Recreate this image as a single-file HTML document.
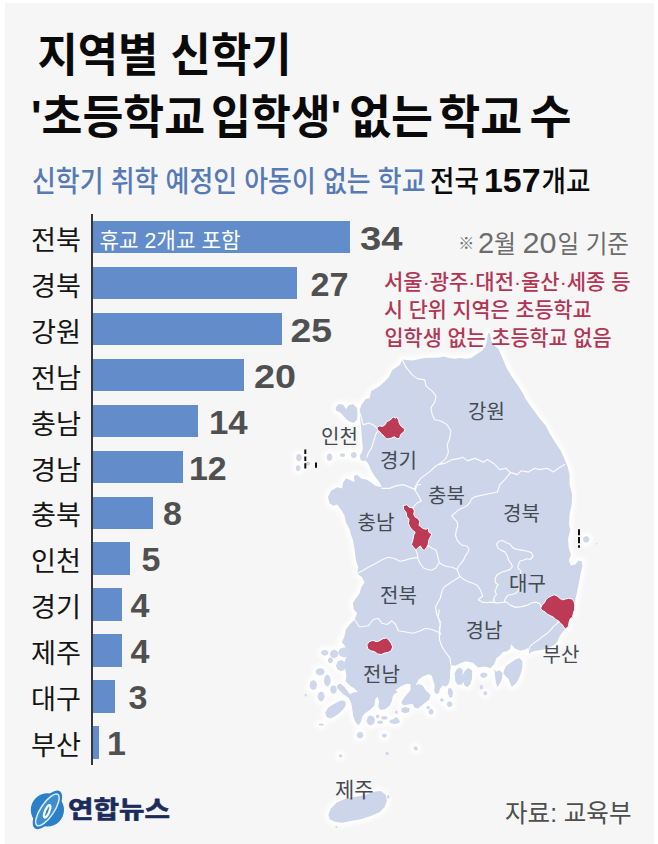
<!DOCTYPE html>
<html lang="ko"><head><meta charset="utf-8"><title>지역별 신학기 '초등학교 입학생' 없는 학교 수</title>
<style>
html,body{margin:0;padding:0;background:#fff}
body{width:658px;height:844px;position:relative;overflow:hidden;font-family:"Liberation Sans","Noto Sans CJK KR",sans-serif}
.panel{position:absolute;left:5px;top:3px;width:649.4px;height:841px;background:#f6f6f6}
.chart{position:absolute;left:0;top:0}
.axis{position:absolute;left:90.7px;top:214.3px;width:2.2px;height:551px;background:#33363f}
.row{position:absolute;left:0;height:32.4px;width:420px}
.bar{position:absolute;left:92.5px;top:0;height:32.4px;background:#638cca}
svg{position:absolute;left:0;top:0}
svg text{font-family:"Liberation Sans","Noto Sans CJK KR",sans-serif}
</style></head><body>
<div class="panel"></div>
<div class="chart">
<div class="row" style="top:221.00px"><div class="bar" style="width:257.5px"></div></div>
<div class="row" style="top:266.92px"><div class="bar" style="width:204.3px"></div></div>
<div class="row" style="top:312.84px"><div class="bar" style="width:189.1px"></div></div>
<div class="row" style="top:358.76px"><div class="bar" style="width:151.1px"></div></div>
<div class="row" style="top:404.68px"><div class="bar" style="width:105.6px"></div></div>
<div class="row" style="top:450.60px"><div class="bar" style="width:90.4px"></div></div>
<div class="row" style="top:496.52px"><div class="bar" style="width:60.0px"></div></div>
<div class="row" style="top:542.44px"><div class="bar" style="width:37.2px"></div></div>
<div class="row" style="top:588.36px"><div class="bar" style="width:29.6px"></div></div>
<div class="row" style="top:634.28px"><div class="bar" style="width:29.6px"></div></div>
<div class="row" style="top:680.20px"><div class="bar" style="width:22.0px"></div></div>
<div class="row" style="top:726.12px"><div class="bar" style="width:6.8px"></div></div>
<div class="axis"></div>
</div>
<svg width="658" height="844" viewBox="0 0 658 844">
<defs><filter id="gl" x="-10%" y="-10%" width="120%" height="120%"><feGaussianBlur stdDeviation="2"/></filter></defs>
<path d="M490.2,333.2 487.8,333.2 487.1,340.5 485.2,346.9 481,351.5 476.5,354.2 471,357.9 465.5,358.8 460.1,357.9 454.6,358.8 449.1,357.9 443.6,356.6 439.7,357.5 424.7,358 412.3,360.5 402.3,359.5 399.8,364.9 392.3,369.9 388.6,377.4 379.9,386.1 371.2,391.1 369.4,398.6 365.8,398.7 361.3,404.9 359.5,411.1 360.3,419.9 361.3,429.8 362,439.8 362.8,448.5 361.3,454.8 364.5,459.7 368.3,463.5 370.8,469.7 374.5,475.9 379.5,482.2 382,487.2 375.7,485.9 370.8,482.2 367,479.7 361.3,478.4 357.1,474.7 353.8,475.9 354.6,482.2 349.6,479.7 345.8,478.4 343.3,482.2 342.1,488.4 337.1,487.2 330.9,490.9 327.9,497.1 329.6,503.3 333.4,505.8 337.1,504.6 340.9,509.6 344.6,515.8 345.8,522 349.6,529.5 351.3,535.7 352.8,539.5 354.6,549.4 355.8,559.4 358.3,569.4 355.8,559.7 358.3,567.2 357.1,573.4 362,577.2 364.5,582.2 361.3,587.2 359.5,593.4 355.8,598.4 352.8,603.3 353.8,609.6 357.1,613.3 354.6,619.5 349.6,624.5 345.8,629.5 344.6,635.7 342.1,642 340.3,640.2 344.1,644.8 347.1,649.3 348.6,653.9 345.6,658.4 344.1,664.5 345.6,670.6 346.4,676.7 345.6,681.2 350.2,685.8 354.7,688.8 357.8,691.9 353.2,692.6 350.2,694.1 348.9,697.9 351.4,704 352.4,710.1 353.2,716.2 355.5,722.3 358.5,725.3 360.8,722.3 362.3,716.2 365.3,713.1 369.9,710.1 374.5,705.5 375.2,699.5 377.5,696.4 379,701 378.3,707.1 380.5,710.1 385.1,709.3 389.7,705.5 391.9,701 392.7,696.4 395,693.4 398,691.9 395.3,690.2 400.6,686.4 406,684.1 410.5,684.1 410.5,690.2 405.2,696.2 402.2,700.8 401.4,703.1 403.7,705.3 408.2,704.6 412.8,703.8 414.3,707.6 418.1,708.4 421.9,705.3 425.7,702.3 429.5,699.3 430.3,694.7 425.7,690.2 422.7,685.6 418.9,684.1 415.8,685.3 418.1,680.3 422.7,676.5 428.8,674.2 431.8,675.7 433.3,681 434.8,685.6 434.1,690.2 435.6,694 438.6,693.2 440.2,688.6 442.4,685.6 446.2,686.4 448.5,684.1 450,678 450,672.7 450.8,665.1 455.3,665.8 461.4,662.8 466,661.3 472.8,662.8 478.1,667.4 484.2,666.6 490.5,667.9 494.3,664.1 496.6,658 500.4,655 502.7,651.9 507.2,651.2 510.3,648.9 511,644.3 513.3,646.6 515.6,648.9 520.2,650.4 525.5,649.6 527.8,648.1 528.5,654.7 531,652.2 534.8,650.9 542.2,649.7 547.2,648.4 552.2,646 554.7,644.7 557.7,641 559.7,636 563.4,631 565.9,628.5 567.7,624.8 569.6,618.5 573.4,614.8 574.1,608.6 575.3,599.9 576.4,595.3 577.9,587.8 579.4,580.2 580.9,572.6 582.4,565.7 581.7,561.2 578.6,560.4 575.6,564.2 571,565.7 568.8,560.4 571,554.3 568.8,548.2 568,539.1 570.3,530 569.1,524.4 569.6,514.4 571.6,504.5 572.1,494.5 569.6,484.5 569.6,474.6 567.7,467.1 564.7,459.6 560.9,450.9 555.9,443.4 549.7,433.5 546,426 539.7,418.5 532.3,408.5 525.3,398.6 523.9,395 518.4,386.1 512,377 506.6,367.9 502,356.9 498.4,348.7 494.7,346 491.1,340.5ZM328.4,814.8 330.9,808.5 337.1,802.3 345.9,798.6 355.8,796.8 365.8,794.8 373.3,791.8 380.7,791.1 385.7,794.8 387,801.1 384.5,807.3 379.5,812.3 370.8,816 360.8,819.3 350.8,821 342.1,822.8 334.6,821.8 329.6,819.3ZM325.1,712.4 328.1,707.8 332.7,704.8 338,701.7 342.6,700.2 345.6,701.7 345.6,705.5 343.3,709.3 339.5,713.1 335,716.2 330.4,718.5 326.6,716.9ZM337.2,685 340.3,683.5 343.3,685.8 346.4,689.6 349.4,693.4 350.9,697.2 348.6,697.9 345.6,695.7 342.6,693.4 339.5,690.3 337.2,688.1ZM454.6,673.4 456.9,668.9 460.7,667.4 462.9,670.4 462.3,675.7 464.5,671.2 468.3,668.1 472.1,670.4 472.1,678 470.5,684.1 467.5,687.1 464.5,685.6 463.6,681.8 461.4,684.8 457.6,684.8 455.3,681ZM504.2,670.2 506.5,665.6 511,662.6 515.6,659.5 519.4,658 522.4,661 522.4,667.1 520.9,673.2 518.6,679.3 515.6,683.8 511.8,686.9 510.3,683.8 508.8,679.3 505.7,676.2 503.4,673.2ZM495.8,671.7 499.6,670.2 502.7,673.2 501.9,679.3 499.6,683.8 497.4,686.9 495.8,682.3 495.1,676.2 494.3,668.6ZM448.1,688.6 450.8,687.9 453.1,691.7 452.3,697 449.6,697.8 447.8,693.2ZM401.4,708.4 405.2,706.9 409.8,708.4 409,712.2 404.4,713.3 401.4,711.4ZM335.5,407.8 338.6,404 343.1,404.8 346.2,409.3 348.4,405.5 353,404 356.8,407.8 357.6,413.9 356.8,420 353.8,423 349.2,421.5 346.2,419.2 343.1,415.4 340.1,412.4 336.3,410.8ZM328.5,652.8 327.4,654.8 324.7,655.7 322,654.8 320.9,652.8 322,650.7 324.7,649.8 327.4,650.7ZM338.5,653.9 337.2,656.9 334.2,658.2 331.2,656.9 329.9,653.9 331.2,650.9 334.2,649.6 337.2,650.9ZM350.9,652.3 349,656 344.5,657.4 340,656 338.1,652.3 340,648.7 344.5,647.3 349,648.7ZM333,660.4 332.2,662.4 330.4,663.3 328.6,662.4 327.8,660.4 328.6,658.3 330.4,657.4 332.2,658.3ZM346.1,665.7 344.7,669.6 341.1,671.2 337.4,669.6 336,665.7 337.4,661.7 341.1,660.1 344.7,661.7ZM324.8,671.8 323.4,674.5 320.1,675.6 316.9,674.5 315.5,671.8 316.9,669 320.1,667.9 323.4,669ZM330.8,680.5 329.8,684.7 327.4,686.4 324.9,684.7 323.9,680.5 324.9,676.3 327.4,674.6 329.8,676.3ZM317.1,685 316,688.7 313.3,690.1 310.6,688.7 309.5,685 310.6,681.4 313.3,680 316,681.4ZM324.7,696.5 323.6,700.1 321.1,701.5 318.6,700.1 317.5,696.5 318.6,692.8 321.1,691.4 323.6,692.8ZM336.9,689.6 335.9,692.6 333.4,693.9 331,692.6 330,689.6 331,686.6 333.4,685.3 335.9,686.6ZM323.9,724.5 323.1,725.4 321.3,725.7 319.5,725.4 318.7,724.5 319.5,723.7 321.3,723.4 323.1,723.7ZM375,720.5 373.7,724.1 370.7,725.5 367.7,724.1 366.4,720.5 367.7,716.8 370.7,715.4 373.7,716.8ZM379.5,716.4 379,717.7 377.6,718.2 376.3,717.7 375.8,716.4 376.3,715 377.6,714.5 379,715ZM387.8,717.9 386.8,719.2 384.4,719.7 381.9,719.2 380.9,717.9 381.9,716.5 384.4,716 386.8,716.5ZM383.1,722.2 382.2,723.5 380.1,724 378.1,723.5 377.2,722.2 378.1,721 380.1,720.5 382.2,721ZM400.1,721.5 398.5,723.3 394.6,724.1 390.7,723.3 389.1,721.5 390.7,719.7 394.6,718.9 398.5,719.7ZM363.5,735.2 362.5,737.6 360.1,738.6 357.6,737.6 356.6,735.2 357.6,732.7 360.1,731.7 362.5,732.7ZM386.9,735.6 386.1,737.1 384.4,737.7 382.6,737.1 381.8,735.6 382.6,734.1 384.4,733.5 386.1,734.1ZM443.7,700 443.2,701.3 441.9,701.8 440.5,701.3 440,700 440.5,698.8 441.9,698.3 443.2,698.8ZM452.6,704.2 451.7,706.3 449.6,707.2 447.6,706.3 446.7,704.2 447.6,702.2 449.6,701.3 451.7,702.2ZM430,707.6 429.5,708.8 428.1,709.3 426.8,708.8 426.3,707.6 426.8,706.4 428.1,705.9 429.5,706.4ZM433.6,711.8 432.8,713.9 431.1,714.8 429.3,713.9 428.5,711.8 429.3,709.7 431.1,708.8 432.8,709.7ZM398.7,720.1 397.9,722.2 396.1,723.1 394.3,722.2 393.5,720.1 394.3,718.1 396.1,717.2 397.9,718.1ZM487.7,675 486.6,676.7 483.9,677.5 481.1,676.7 480,675 481.1,673.2 483.9,672.4 486.6,673.2ZM417.6,748 417,749.4 415.5,749.9 414,749.4 413.4,748 414,746.7 415.5,746.2 417,746.7ZM487.1,675.5 486.1,677.3 483.6,678.1 481.2,677.3 480.2,675.5 481.2,673.7 483.6,672.9 486.1,673.7ZM487.2,693.3 486.6,694.8 485.2,695.4 483.8,694.8 483.2,693.3 483.8,691.8 485.2,691.2 486.6,691.8ZM332.5,457.2 331.6,460 329.5,461.1 327.5,460 326.6,457.2 327.5,454.4 329.5,453.3 331.6,454.4ZM345.2,455 344.4,456.4 342.5,456.9 340.6,456.4 339.8,455 340.6,453.7 342.5,453.2 344.4,453.7ZM356.8,455 355.9,457.3 353.8,458.2 351.6,457.3 350.7,455 351.6,452.8 353.8,451.9 355.9,452.8ZM367.2,456.6 366.1,459.9 363.5,461.2 360.8,459.9 359.7,456.6 360.8,453.4 363.5,452.1 366.1,453.4ZM301.8,457.6 301,460.3 298.9,461.4 296.8,460.3 296,457.6 296.8,454.8 298.9,453.7 301,454.8ZM310.3,463.6 309.5,465.1 307.6,465.7 305.6,465.1 304.8,463.6 305.6,462.1 307.6,461.5 309.5,462.1ZM300.6,468.2 299.9,470.3 298.1,471.2 296.4,470.3 295.7,468.2 296.4,466.1 298.1,465.2 299.9,466.1ZM342.6,756 342,757.1 340.6,757.6 339.3,757.1 338.7,756 339.3,754.8 340.6,754.3 342,754.8ZM417.8,748.8 417.3,750.1 416,750.7 414.7,750.1 414.2,748.8 414.7,747.4 416,746.8 417.3,747.4ZM589.4,539.3 588.5,541.7 586.2,542.7 583.9,541.7 583,539.3 583.9,536.9 586.2,535.9 588.5,536.9Z" fill="#fff" stroke="#fff" stroke-width="7" stroke-linejoin="round" filter="url(#gl)" opacity="0.95"/>
<path d="M490.2,333.2 487.8,333.2 487.1,340.5 485.2,346.9 481,351.5 476.5,354.2 471,357.9 465.5,358.8 460.1,357.9 454.6,358.8 449.1,357.9 443.6,356.6 439.7,357.5 424.7,358 412.3,360.5 402.3,359.5 399.8,364.9 392.3,369.9 388.6,377.4 379.9,386.1 371.2,391.1 369.4,398.6 365.8,398.7 361.3,404.9 359.5,411.1 360.3,419.9 361.3,429.8 362,439.8 362.8,448.5 361.3,454.8 364.5,459.7 368.3,463.5 370.8,469.7 374.5,475.9 379.5,482.2 382,487.2 375.7,485.9 370.8,482.2 367,479.7 361.3,478.4 357.1,474.7 353.8,475.9 354.6,482.2 349.6,479.7 345.8,478.4 343.3,482.2 342.1,488.4 337.1,487.2 330.9,490.9 327.9,497.1 329.6,503.3 333.4,505.8 337.1,504.6 340.9,509.6 344.6,515.8 345.8,522 349.6,529.5 351.3,535.7 352.8,539.5 354.6,549.4 355.8,559.4 358.3,569.4 355.8,559.7 358.3,567.2 357.1,573.4 362,577.2 364.5,582.2 361.3,587.2 359.5,593.4 355.8,598.4 352.8,603.3 353.8,609.6 357.1,613.3 354.6,619.5 349.6,624.5 345.8,629.5 344.6,635.7 342.1,642 340.3,640.2 344.1,644.8 347.1,649.3 348.6,653.9 345.6,658.4 344.1,664.5 345.6,670.6 346.4,676.7 345.6,681.2 350.2,685.8 354.7,688.8 357.8,691.9 353.2,692.6 350.2,694.1 348.9,697.9 351.4,704 352.4,710.1 353.2,716.2 355.5,722.3 358.5,725.3 360.8,722.3 362.3,716.2 365.3,713.1 369.9,710.1 374.5,705.5 375.2,699.5 377.5,696.4 379,701 378.3,707.1 380.5,710.1 385.1,709.3 389.7,705.5 391.9,701 392.7,696.4 395,693.4 398,691.9 395.3,690.2 400.6,686.4 406,684.1 410.5,684.1 410.5,690.2 405.2,696.2 402.2,700.8 401.4,703.1 403.7,705.3 408.2,704.6 412.8,703.8 414.3,707.6 418.1,708.4 421.9,705.3 425.7,702.3 429.5,699.3 430.3,694.7 425.7,690.2 422.7,685.6 418.9,684.1 415.8,685.3 418.1,680.3 422.7,676.5 428.8,674.2 431.8,675.7 433.3,681 434.8,685.6 434.1,690.2 435.6,694 438.6,693.2 440.2,688.6 442.4,685.6 446.2,686.4 448.5,684.1 450,678 450,672.7 450.8,665.1 455.3,665.8 461.4,662.8 466,661.3 472.8,662.8 478.1,667.4 484.2,666.6 490.5,667.9 494.3,664.1 496.6,658 500.4,655 502.7,651.9 507.2,651.2 510.3,648.9 511,644.3 513.3,646.6 515.6,648.9 520.2,650.4 525.5,649.6 527.8,648.1 528.5,654.7 531,652.2 534.8,650.9 542.2,649.7 547.2,648.4 552.2,646 554.7,644.7 557.7,641 559.7,636 563.4,631 565.9,628.5 567.7,624.8 569.6,618.5 573.4,614.8 574.1,608.6 575.3,599.9 576.4,595.3 577.9,587.8 579.4,580.2 580.9,572.6 582.4,565.7 581.7,561.2 578.6,560.4 575.6,564.2 571,565.7 568.8,560.4 571,554.3 568.8,548.2 568,539.1 570.3,530 569.1,524.4 569.6,514.4 571.6,504.5 572.1,494.5 569.6,484.5 569.6,474.6 567.7,467.1 564.7,459.6 560.9,450.9 555.9,443.4 549.7,433.5 546,426 539.7,418.5 532.3,408.5 525.3,398.6 523.9,395 518.4,386.1 512,377 506.6,367.9 502,356.9 498.4,348.7 494.7,346 491.1,340.5Z" fill="#ccd5e9"/>
<path d="M328.4,814.8 330.9,808.5 337.1,802.3 345.9,798.6 355.8,796.8 365.8,794.8 373.3,791.8 380.7,791.1 385.7,794.8 387,801.1 384.5,807.3 379.5,812.3 370.8,816 360.8,819.3 350.8,821 342.1,822.8 334.6,821.8 329.6,819.3Z" fill="#ccd5e9"/>
<path d="M325.1,712.4 328.1,707.8 332.7,704.8 338,701.7 342.6,700.2 345.6,701.7 345.6,705.5 343.3,709.3 339.5,713.1 335,716.2 330.4,718.5 326.6,716.9Z" fill="#ccd5e9"/>
<path d="M337.2,685 340.3,683.5 343.3,685.8 346.4,689.6 349.4,693.4 350.9,697.2 348.6,697.9 345.6,695.7 342.6,693.4 339.5,690.3 337.2,688.1Z" fill="#ccd5e9"/>
<path d="M454.6,673.4 456.9,668.9 460.7,667.4 462.9,670.4 462.3,675.7 464.5,671.2 468.3,668.1 472.1,670.4 472.1,678 470.5,684.1 467.5,687.1 464.5,685.6 463.6,681.8 461.4,684.8 457.6,684.8 455.3,681Z" fill="#ccd5e9"/>
<path d="M504.2,670.2 506.5,665.6 511,662.6 515.6,659.5 519.4,658 522.4,661 522.4,667.1 520.9,673.2 518.6,679.3 515.6,683.8 511.8,686.9 510.3,683.8 508.8,679.3 505.7,676.2 503.4,673.2Z" fill="#ccd5e9"/>
<path d="M495.8,671.7 499.6,670.2 502.7,673.2 501.9,679.3 499.6,683.8 497.4,686.9 495.8,682.3 495.1,676.2 494.3,668.6Z" fill="#ccd5e9"/>
<path d="M448.1,688.6 450.8,687.9 453.1,691.7 452.3,697 449.6,697.8 447.8,693.2Z" fill="#ccd5e9"/>
<path d="M401.4,708.4 405.2,706.9 409.8,708.4 409,712.2 404.4,713.3 401.4,711.4Z" fill="#ccd5e9"/>
<path d="M335.5,407.8 338.6,404 343.1,404.8 346.2,409.3 348.4,405.5 353,404 356.8,407.8 357.6,413.9 356.8,420 353.8,423 349.2,421.5 346.2,419.2 343.1,415.4 340.1,412.4 336.3,410.8Z" fill="#ccd5e9"/>
<path d="M328.5,652.8 327.4,654.8 324.7,655.7 322,654.8 320.9,652.8 322,650.7 324.7,649.8 327.4,650.7ZM338.5,653.9 337.2,656.9 334.2,658.2 331.2,656.9 329.9,653.9 331.2,650.9 334.2,649.6 337.2,650.9ZM350.9,652.3 349,656 344.5,657.4 340,656 338.1,652.3 340,648.7 344.5,647.3 349,648.7ZM333,660.4 332.2,662.4 330.4,663.3 328.6,662.4 327.8,660.4 328.6,658.3 330.4,657.4 332.2,658.3ZM346.1,665.7 344.7,669.6 341.1,671.2 337.4,669.6 336,665.7 337.4,661.7 341.1,660.1 344.7,661.7ZM324.8,671.8 323.4,674.5 320.1,675.6 316.9,674.5 315.5,671.8 316.9,669 320.1,667.9 323.4,669ZM330.8,680.5 329.8,684.7 327.4,686.4 324.9,684.7 323.9,680.5 324.9,676.3 327.4,674.6 329.8,676.3ZM317.1,685 316,688.7 313.3,690.1 310.6,688.7 309.5,685 310.6,681.4 313.3,680 316,681.4ZM324.7,696.5 323.6,700.1 321.1,701.5 318.6,700.1 317.5,696.5 318.6,692.8 321.1,691.4 323.6,692.8ZM336.9,689.6 335.9,692.6 333.4,693.9 331,692.6 330,689.6 331,686.6 333.4,685.3 335.9,686.6ZM323.9,724.5 323.1,725.4 321.3,725.7 319.5,725.4 318.7,724.5 319.5,723.7 321.3,723.4 323.1,723.7ZM375,720.5 373.7,724.1 370.7,725.5 367.7,724.1 366.4,720.5 367.7,716.8 370.7,715.4 373.7,716.8ZM379.5,716.4 379,717.7 377.6,718.2 376.3,717.7 375.8,716.4 376.3,715 377.6,714.5 379,715ZM387.8,717.9 386.8,719.2 384.4,719.7 381.9,719.2 380.9,717.9 381.9,716.5 384.4,716 386.8,716.5ZM383.1,722.2 382.2,723.5 380.1,724 378.1,723.5 377.2,722.2 378.1,721 380.1,720.5 382.2,721ZM400.1,721.5 398.5,723.3 394.6,724.1 390.7,723.3 389.1,721.5 390.7,719.7 394.6,718.9 398.5,719.7ZM363.5,735.2 362.5,737.6 360.1,738.6 357.6,737.6 356.6,735.2 357.6,732.7 360.1,731.7 362.5,732.7ZM386.9,735.6 386.1,737.1 384.4,737.7 382.6,737.1 381.8,735.6 382.6,734.1 384.4,733.5 386.1,734.1ZM397.8,712.1 397.3,713.1 396.3,713.5 395.3,713.1 394.8,712.1 395.3,711.2 396.3,710.8 397.3,711.2ZM306.9,695.2 306.6,696.2 305.7,696.5 304.8,696.2 304.5,695.2 304.8,694.3 305.7,694 306.6,694.3ZM443.7,700 443.2,701.3 441.9,701.8 440.5,701.3 440,700 440.5,698.8 441.9,698.3 443.2,698.8ZM452.6,704.2 451.7,706.3 449.6,707.2 447.6,706.3 446.7,704.2 447.6,702.2 449.6,701.3 451.7,702.2ZM430,707.6 429.5,708.8 428.1,709.3 426.8,708.8 426.3,707.6 426.8,706.4 428.1,705.9 429.5,706.4ZM433.6,711.8 432.8,713.9 431.1,714.8 429.3,713.9 428.5,711.8 429.3,709.7 431.1,708.8 432.8,709.7ZM398.7,720.1 397.9,722.2 396.1,723.1 394.3,722.2 393.5,720.1 394.3,718.1 396.1,717.2 397.9,718.1ZM397.7,712.2 397.4,713.4 396.5,713.9 395.5,713.4 395.2,712.2 395.5,711 396.5,710.5 397.4,711ZM487.7,675 486.6,676.7 483.9,677.5 481.1,676.7 480,675 481.1,673.2 483.9,672.4 486.6,673.2ZM482.9,687.9 482.4,689.1 481.2,689.6 480,689.1 479.5,687.9 480,686.7 481.2,686.2 482.4,686.7ZM487.4,693 487.1,694.1 486.1,694.6 485.2,694.1 484.9,693 485.2,692 486.1,691.5 487.1,692ZM417.6,748 417,749.4 415.5,749.9 414,749.4 413.4,748 414,746.7 415.5,746.2 417,746.7ZM487.1,675.5 486.1,677.3 483.6,678.1 481.2,677.3 480.2,675.5 481.2,673.7 483.6,672.9 486.1,673.7ZM487.2,693.3 486.6,694.8 485.2,695.4 483.8,694.8 483.2,693.3 483.8,691.8 485.2,691.2 486.6,691.8ZM483.1,686.8 482.6,688.1 481.4,688.6 480.2,688.1 479.7,686.8 480.2,685.6 481.4,685.1 482.6,685.6ZM332.5,457.2 331.6,460 329.5,461.1 327.5,460 326.6,457.2 327.5,454.4 329.5,453.3 331.6,454.4ZM345.2,455 344.4,456.4 342.5,456.9 340.6,456.4 339.8,455 340.6,453.7 342.5,453.2 344.4,453.7ZM356.8,455 355.9,457.3 353.8,458.2 351.6,457.3 350.7,455 351.6,452.8 353.8,451.9 355.9,452.8ZM367.2,456.6 366.1,459.9 363.5,461.2 360.8,459.9 359.7,456.6 360.8,453.4 363.5,452.1 366.1,453.4ZM301.8,457.6 301,460.3 298.9,461.4 296.8,460.3 296,457.6 296.8,454.8 298.9,453.7 301,454.8ZM310.3,463.6 309.5,465.1 307.6,465.7 305.6,465.1 304.8,463.6 305.6,462.1 307.6,461.5 309.5,462.1ZM300.6,468.2 299.9,470.3 298.1,471.2 296.4,470.3 295.7,468.2 296.4,466.1 298.1,465.2 299.9,466.1ZM342.6,756 342,757.1 340.6,757.6 339.3,757.1 338.7,756 339.3,754.8 340.6,754.3 342,754.8ZM388.9,753.5 388.4,754.7 387.2,755.2 386,754.7 385.5,753.5 386,752.3 387.2,751.8 388.4,752.3ZM417.8,748.8 417.3,750.1 416,750.7 414.7,750.1 414.2,748.8 414.7,747.4 416,746.8 417.3,747.4ZM389.6,797 389.2,798.3 388.2,798.8 387.3,798.3 386.9,797 387.3,795.6 388.2,795.1 389.2,795.6ZM337.5,827 337.2,827.8 336.4,828.1 335.6,827.8 335.3,827 335.6,826.2 336.4,825.9 337.2,826.2ZM589.4,539.3 588.5,541.7 586.2,542.7 583.9,541.7 583,539.3 583.9,536.9 586.2,535.9 588.5,536.9ZM597.5,543.8 597.1,544.6 596.1,544.6 595.7,543.8 596.1,543 597.1,543Z" fill="#cfd7ea"/>
<path d="M402.3,359.5 406.1,367.4 412.3,374.9 417.3,378.6 424.7,379.9 426,386.1 432.2,391.1 436,396.1 434.7,402.3 431,407.3 432.2,414.8 434.7,419.8 440.9,421 447.2,424.8 450.9,431 449.7,438.5 447.2,444.7 448.4,452.2 445.9,458.4 442.2,462.1 438.5,464.6M438.5,464.6 444.7,463.4 452.1,459.6 459.6,458.4 460,458.4 462.5,457.1 467.5,460.9 475,458.4 483.7,462.1 487.4,459.6 493.6,463.4 499.9,469.6 506.1,468.3 509.8,472.1 517.3,474.6 521.1,470.8 528.5,472.1 534.8,468.3 539.7,469.6 547.2,468.3 553.4,472.1 558.4,468.3 564.7,464.6M438.5,464.6 435.6,466 430.6,470.9 425.6,474.7 420.6,478.4 416.9,483.4 415.6,489.6 409.4,487.1 403.2,484.6 395.7,485.9 389.5,488.4 382,488.4M420.5,484.4 416,485.2 414.4,489 416.7,492.8 419,496.6 421.3,501.2 417.5,502.7 414.4,505.7 412.9,508M509.8,473.3 504.9,479.6 499.9,484.5 497.4,492 475.2,496.6 471.4,498.9 469.9,502.7 466.9,505.7 462.3,508 457.8,510.3 454.7,513.3 451.7,515.6 454,518.6 457,521.7 457.8,526.2 456.2,530.8 455.5,535.3 457,539.9 459.3,542.9 462.3,545.2 466.9,546 469.1,549 467.6,552.8 465.3,555.9 463.8,559.7 461.6,562.7 458.5,566.5 457,569.5M457,569.5 452.4,567.3 447.1,566.5 442.6,565 439.5,562.7 438,558.1 437.2,553.6 435.7,549.8 431.9,548.3 428.9,546 427.1,547.2M416,549.8 417.5,555.1 418.2,559.7 420.5,564.2 423.6,568 427.4,569.5 431.9,570.3 435.7,568 438,564.2 439.5,562.7M357.1,573.4 362,571 368.3,567.2 375.7,563.5 382,559.7 388.2,557.2 394.4,558.5 400,561.2 404.6,560.4 409.1,558.9 413.7,558.1 417.8,557.4M457,569.5 458.5,573.3 460,576.4 457.8,577.9 453.2,580.9 448.6,584 444.1,587 441.8,591.6 440.3,598 435.5,607.1 436.8,614.6 440.5,622 439.3,629.5 440.5,634.5M460,576.4 463.8,579.4 468.4,581.7 472.9,583.2 477.5,585.5 480.5,590.1 482.8,596.1M354.6,619.5 359.5,627 368.3,625.8 373.2,619.5 378.2,618.3 382,623.3 387,624.5 391.9,620.8 395.7,624.5 398.2,630.8 405.6,632 413.1,633.3 420.6,630.8 425.6,628.3 431.8,629.5 438,632 440.5,634.5M439.3,609.9 438,617.4 440.5,624.9 439.3,632.4 439.5,639.8 441.7,646.1 445.5,652.2 450,658.2 450.8,664.3M482.8,596 480.6,597.5 478.3,599.8 482.1,602.1 486.6,602.8 491.2,602.1 495,602.8 499.6,602.8 504.1,602.1 506.4,602.1 510.2,605.1 515.5,607.4 521.6,606.6 527.7,605.1 532.2,602.8 536,602.1 539.8,603.6 541.3,607.4M504.1,602.1 505.6,598.3 507.9,595.2 511.7,594.5 515.8,593.3 517.8,591.4 519.3,586.9 520.1,580.8 520.4,574.7 520.8,570.9 517.8,567.9 518.6,564.1 520.1,561 523.1,560.3 526.9,558.8 530,559.5 533,556.5 531.5,552.7 527.7,551.2 523.1,550.4 517.8,549.6 513.2,548.1 510.2,544.3 506.4,542.8 502.6,540.5 498.8,541.3 496.5,544.3 498,548.1 501.1,550.4 504.9,551.9 507.2,555.7 508.7,560.3 511,563.3 512.5,566.4 510.2,569.4 506.4,570.9 502.6,571.7 499.6,573.2 496.5,575.5 495,579.3 495.8,583.1 498,584.6 496.5,587.6 495,591.4 496.5,594.5 494.2,597.5 493.5,600.5 495.8,602.8M558.8,621.5 556.5,624.1 553.5,626.4 551.2,629.4 547.4,633.2 542.9,636.3 538.3,640.1 533.8,643.1 530,646.1 528.5,650.9 528.5,654.7M359.3,411.2 361.2,417.4 363.1,424.9 368.7,423 373.1,424.7 376.8,427.7M377.7,431.1 375.5,434.9 374.3,439.2 372.8,444.2 371.2,448.6 368.7,452.3 366.8,457.3" fill="none" stroke="#fff" stroke-width="1.15" stroke-linejoin="round" stroke-linecap="round" opacity="0.92"/>
<path d="M376.8,427.7 379.3,425.9 382.7,426.4 385.5,424.3 386.4,421.8 389.3,420.5 391.7,418.7 393,416.8 395.5,418.1 396.7,417.2 398.6,419.9 399.2,423 400.5,425.5 403,427.7 404.8,428.4 404.6,431.1 402.3,433 400.5,434.9 399.9,437.4 398,438.9 396.1,438 394.2,436.7 391.7,438 389.3,438.6 386.8,438.9 384.9,437.4 383,435.1 381.2,433.9 379.9,431.8 378,430.5Z" fill="#bd3a56" stroke="#fff" stroke-width="1" stroke-linejoin="round"/>
<path d="M403,505.7 406.8,504.7 409.1,507.2 412.9,508 414.4,511 413.7,514.1 415.2,517.1 418.2,518.6 419.8,521.7 419,525.5 420.5,526.2 422.8,528.5 426.6,529.3 428.1,527.8 428.9,532.3 431.9,533.8 430.4,536.9 428.9,539.9 428.1,544.5 426.6,547.5 424.3,550.5 422,549 420.5,546 418.2,547.5 416,549.8 413.7,547.5 411.4,544.5 412.9,539.9 413.7,535.3 415.2,532.3 412.2,530 409.9,527 408.4,523.2 409.1,519.4 406.8,516.4 406.1,512.6 403.8,509.5Z" fill="#bd3a56" stroke="#fff" stroke-width="1" stroke-linejoin="round"/>
<path d="M366.9,644.8 369.1,641.7 372.9,640.2 376,641.7 379,641 382.8,638.7 386.6,637.9 388.9,640.2 391.2,643.2 392.7,647 391.2,650.8 388.1,652.4 384.3,653.1 381.3,654.6 377.5,653.9 374.5,651.6 370.7,650.8 367.6,648.6Z" fill="#bd3a56" stroke="#fff" stroke-width="1" stroke-linejoin="round"/>
<path d="M540.6,608.1 542.1,605.1 544.4,602.8 545.9,599.8 548.2,597.5 551.2,596 554.3,594.8 557.3,596 559.6,598.3 562.6,599.8 565.7,599 568.7,598.3 571.7,599 574,601.3 574.8,605.1 574.5,609.7 573.3,613.5 572.5,617.3 570.2,618.8 569,622.6 568.4,626.4 565.7,628.7 563.4,627.1 562.6,624.9 560.3,623.3 558.8,621.1 555.8,619.5 553.5,617.3 550.5,615.7 547.4,614.2 545.1,611.9 542.1,610.4Z" fill="#bd3a56" stroke="#fff" stroke-width="1" stroke-linejoin="round"/>
<path d="M305.3,449.6v4.5m0,2.3v4.6m0,2.3v5.3M316,462.5v5.3M579,529.2v6.1m0,1.8v6.1m0,2v2.5" stroke="#111" stroke-width="2" fill="none"/>

<!-- map labels -->
<g font-size="20" fill="#444a52">
<text x="468" y="419">강원</text>
<text x="321" y="443.5">인천</text>
<text x="380" y="468">경기</text>
<text x="428" y="503">충북</text>
<text x="357.5" y="530">충남</text>
<text x="503" y="521">경북</text>
<text x="380" y="602.5">전북</text>
<text x="509" y="590.5">대구</text>
<text x="465.5" y="637.5">경남</text>
<text x="542.5" y="661.5">부산</text>
<text x="363" y="682">전남</text>
<text x="335" y="797" font-size="21">제주</text>
</g>

<!-- title -->
<g font-size="46" font-weight="bold" fill="#0a0a0a">
<text x="37.5" y="70.5" textLength="254" lengthAdjust="spacingAndGlyphs">지역별 신학기</text>
<text x="31" y="133.3" textLength="174" lengthAdjust="spacingAndGlyphs">'초등학교</text>
<text x="211" y="133.3" textLength="130" lengthAdjust="spacingAndGlyphs">입학생'</text>
<text x="349" y="133.3" textLength="84" lengthAdjust="spacingAndGlyphs">없는</text>
<text x="438.3" y="133.3" textLength="84" lengthAdjust="spacingAndGlyphs">학교</text>
<text x="529.5" y="133.3" textLength="42" lengthAdjust="spacingAndGlyphs">수</text>
</g>

<!-- subtitle -->
<text x="32" y="192.2" font-size="29" font-weight="500" fill="#5679b7" textLength="393.5" lengthAdjust="spacingAndGlyphs">신학기 취학 예정인 아동이 없는 학교</text>
<text x="430" y="192.2" font-size="29" font-weight="500" fill="#0a0a0a" textLength="49" lengthAdjust="spacingAndGlyphs">전국</text>
<text x="484" y="192.2" font-size="34" font-weight="bold" fill="#0a0a0a" textLength="56.5" lengthAdjust="spacingAndGlyphs">157</text>
<text x="541.5" y="192.2" font-size="29" font-weight="500" fill="#0a0a0a" textLength="49" lengthAdjust="spacingAndGlyphs">개교</text>

<!-- row names -->
<g font-size="27" fill="#151515">
<text x="31" y="249.8" textLength="50" lengthAdjust="spacingAndGlyphs">전북</text>
<text x="31" y="295.8" textLength="50" lengthAdjust="spacingAndGlyphs">경북</text>
<text x="31" y="341.6" textLength="50" lengthAdjust="spacingAndGlyphs">강원</text>
<text x="31" y="387.5" textLength="50" lengthAdjust="spacingAndGlyphs">전남</text>
<text x="31" y="433.6" textLength="50" lengthAdjust="spacingAndGlyphs">충남</text>
<text x="31" y="479.5" textLength="50" lengthAdjust="spacingAndGlyphs">경남</text>
<text x="31" y="525.3" textLength="50" lengthAdjust="spacingAndGlyphs">충북</text>
<text x="31" y="571.3" textLength="50" lengthAdjust="spacingAndGlyphs">인천</text>
<text x="31" y="617.3" textLength="50" lengthAdjust="spacingAndGlyphs">경기</text>
<text x="31" y="663.2" textLength="50" lengthAdjust="spacingAndGlyphs">제주</text>
<text x="31" y="709" textLength="50" lengthAdjust="spacingAndGlyphs">대구</text>
<text x="31" y="755" textLength="50" lengthAdjust="spacingAndGlyphs">부산</text>
</g>

<!-- row values -->
<g font-size="34" font-weight="bold" fill="#505050">
<text x="360" y="249.8" textLength="42.5" lengthAdjust="spacingAndGlyphs">34</text>
<text x="310.5" y="295.8" textLength="38" lengthAdjust="spacingAndGlyphs">27</text>
<text x="290.5" y="341.6" textLength="41.5" lengthAdjust="spacingAndGlyphs">25</text>
<text x="254" y="387.5" textLength="42" lengthAdjust="spacingAndGlyphs">20</text>
<text x="209" y="433.6" textLength="38.7" lengthAdjust="spacingAndGlyphs">14</text>
<text x="189" y="479.5" textLength="37.7" lengthAdjust="spacingAndGlyphs">12</text>
<text x="163" y="525.3">8</text>
<text x="141.5" y="571.3">5</text>
<text x="130.5" y="617.3">4</text>
<text x="130.5" y="663.2">4</text>
<text x="128.5" y="709">3</text>
<text x="107" y="755">1</text>
</g>

<!-- bar inner label -->
<text x="99.5" y="248" font-size="22" fill="#ffffff" textLength="141" lengthAdjust="spacingAndGlyphs">휴교 2개교 포함</text>

<!-- date note -->
<g fill="#6c6c6c">
<text x="458.2" y="249" font-size="16">※</text>
<text x="478" y="252.7" font-size="29">2</text>
<text x="494" y="252.7" font-size="25" textLength="22" lengthAdjust="spacingAndGlyphs">월</text>
<text x="522.5" y="252.7" font-size="29" textLength="34" lengthAdjust="spacingAndGlyphs">20</text>
<text x="557.5" y="252.7" font-size="25" textLength="71.5" lengthAdjust="spacingAndGlyphs">일 기준</text>
</g>

<!-- red note -->
<g font-size="21" font-weight="500" fill="#b23554">
<text x="384" y="288.5" textLength="246.5" lengthAdjust="spacingAndGlyphs">서울·광주·대전·울산·세종 등</text>
<text x="384" y="316.7" textLength="207.5" lengthAdjust="spacingAndGlyphs">시 단위 지역은 초등학교</text>
<text x="384.5" y="345" textLength="227" lengthAdjust="spacingAndGlyphs">입학생 없는 초등학교 없음</text>
</g>

<!-- source -->
<text x="505" y="821.6" font-size="25" fill="#4e4e4e" textLength="126.5" lengthAdjust="spacingAndGlyphs">자료: 교육부</text>

<!-- brand -->
<text x="68" y="818.2" font-size="24" font-weight="bold" fill="#1b2c5c" stroke="#1b2c5c" stroke-width="0.7" stroke-linejoin="round" textLength="102" lengthAdjust="spacingAndGlyphs">연합뉴스</text>

<g transform="translate(47.4,809.9)">
<circle r="16.6" fill="#2b80c7"/>
<ellipse rx="22.4" ry="9.4" transform="rotate(-56)" fill="#2b80c7"/>
<ellipse rx="18.6" ry="6.6" transform="rotate(-56)" fill="#3f8fd0" stroke="#dcecf8" stroke-width="1.5"/>
<ellipse cx="-1.4" cy="0.3" rx="6.6" ry="2.1" transform="rotate(-68)" fill="#2b80c7" stroke="#f6fbfe" stroke-width="2.3"/>
</g>

</svg>
</body></html>
